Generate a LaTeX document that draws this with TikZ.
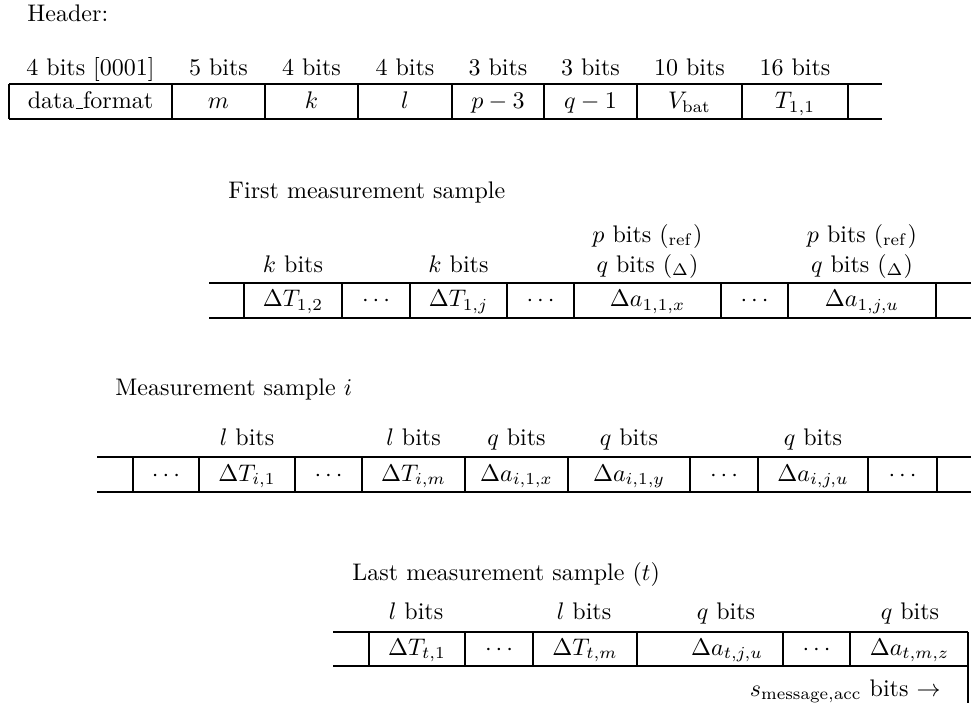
\documentclass[tikz,border=0pt]{standalone}
\newcommand{\ulbar}{\leavevmode\kern.06em\rule{.3em}{.4pt}}
\begin{document}
\begin{tikzpicture}[x=0.41667pt, y=-0.41667pt,
  rule/.style={line width=1pt},
  txt/.style={anchor=base, inner sep=0pt},
  ttl/.style={anchor=base west, inner sep=0pt}]
\useasboundingbox (0,0) rectangle (971,703);

% ---------------- Header ----------------
\node[ttl] (hdr) at (27,21) {Header:};
\foreach \x/\t [count=\i] in {90.5/{4 bits [0001]}, 218.5/{5 bits}, 311.5/{4 bits}, 405/{4 bits},
  498/{3 bits}, 590.5/{3 bits}, 689.5/{10 bits}, 795/{16 bits}}
  \node[txt] (hl\i) at (\x,75) {\t};
\draw[rule] (9,84) -- (882,84) (9,119) -- (882,119);
\foreach \x in {9,172,265,358,452,544,637,742,848}
  \draw[rule] (\x,84) -- (\x,119);
\foreach \x/\t [count=\i] in {90.5/{data\ulbar format}, 218.5/{$m$}, 311.5/{$k$}, 405/{$l$},
  498/{$p-3$}, 590.5/{$q-1$}, 689.5/{$V_{\mathrm{bat}}$}, 795/{$T_{1,1}$}}
  \node[txt] (hc\i) at (\x,108.5) {\t};

% ---------------- First measurement sample ----------------
\node[ttl] (fst) at (228,198) {First measurement sample};
\node[txt] (fl1) at (293,272) {$k$ bits};
\node[txt] (fl2) at (458.5,272) {$k$ bits};
\node[txt] (fl3) at (647.5,272) {$q$ bits $({}_{\Delta})$};
\node[txt] (fl4) at (862,272) {$q$ bits $({}_{\Delta})$};
\node[txt] (fp3) at (647.5,242) {$p$ bits $({}_{\mathrm{ref}})$};
\node[txt] (fp4) at (862,242) {$p$ bits $({}_{\mathrm{ref}})$};
\draw[rule] (209,283) -- (971,283) (209,318) -- (971,318);
\foreach \x in {244,342,410,507,574,721,788,936}
  \draw[rule] (\x,283) -- (\x,318);
\foreach \x/\t [count=\i] in {293/{$\Delta T_{1,2}$}, 376/{$\cdots$}, 458.5/{$\Delta T_{1,j}$},
  540.5/{$\cdots$}, 647.5/{$\Delta a_{1,1,x}$}, 754.5/{$\cdots$}, 862/{$\Delta a_{1,j,u}$}}
  \node[txt] (fc\i) at (\x,306.5) {\t};

% ---------------- Measurement sample i ----------------
\node[ttl] (mid) at (115,395) {Measurement sample $i$};
\foreach \x/\t [count=\i] in {247/{$l$ bits}, 413.5/{$l$ bits}, 516.5/{$q$ bits},
  629/{$q$ bits}, 813/{$q$ bits}}
  \node[txt] (ml\i) at (\x,445) {\t};
\draw[rule] (97,457) -- (971,457) (97,492) -- (971,492);
\foreach \x in {133,199,295,362,465,568,690,758,868,937}
  \draw[rule] (\x,457) -- (\x,492);
\foreach \x/\t [count=\i] in {166/{$\cdots$}, 247/{$\Delta T_{i,1}$}, 328.5/{$\cdots$},
  413.5/{$\Delta T_{i,m}$}, 516.5/{$\Delta a_{i,1,x}$}, 629/{$\Delta a_{i,1,y}$},
  724/{$\cdots$}, 813/{$\Delta a_{i,j,u}$}, 902.5/{$\cdots$}}
  \node[txt] (mc\i) at (\x,481) {\t};

% ---------------- Last measurement sample ----------------
\node[ttl] (lst) at (352,580) {Last measurement sample $(t)$};
\foreach \x/\t [count=\i] in {416/{$l$ bits}, 584/{$l$ bits}, 726/{$q$ bits}, 910/{$q$ bits}}
  \node[txt] (ll\i) at (\x,619) {\t};
\draw[rule] (333,632) -- (968,632) (333,666) -- (968,666);
\foreach \x in {369,465,533,637,783,850}
  \draw[rule] (\x,632) -- (\x,666);
\draw[rule] (968,632) -- (968,703);
\foreach \x/\t [count=\i] in {417/{$\Delta T_{t,1}$}, 499/{$\cdots$}, 585/{$\Delta T_{t,m}$},
  727/{$\Delta a_{t,j,u}$}, 816.5/{$\cdots$}, 909.5/{$\Delta a_{t,m,z}$}}
  \node[txt] (lc\i) at (\x,655) {\t};
\node[anchor=base east, inner sep=0pt] (smsg) at (941,696) {$s_{\mathrm{message,acc}}$ bits $\rightarrow$};
\end{tikzpicture}
\end{document}
